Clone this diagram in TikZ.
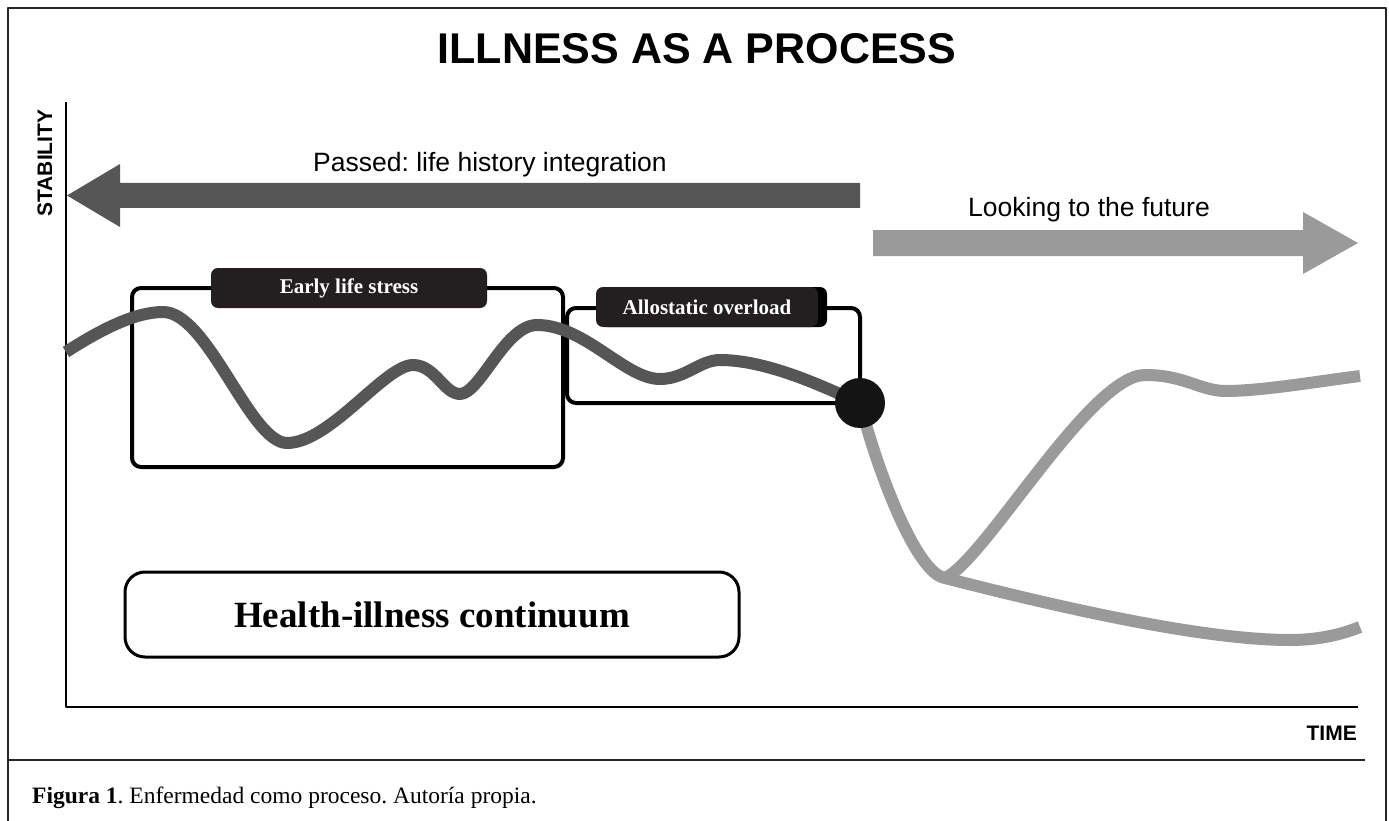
\documentclass[tikz,border=0pt]{standalone}
\usepackage{fontspec}
\setmainfont{Liberation Serif}
\newfontfamily\arialf{Liberation Sans}
\definecolor{darkgr}{HTML}{565656}
\definecolor{lightgr}{HTML}{9A9A9A}
\definecolor{labelblk}{HTML}{231F20}
\frenchspacing
\begin{document}
\begin{tikzpicture}[x=1pt,y=-1pt,line join=round,
  framest/.style={line width=2.5pt,black!85},
  axisst/.style={line width=2pt,black},
  boxst/.style={draw,line width=4pt,rounded corners=9pt,inner sep=0pt},
  labelst/.style={fill=labelblk,rounded corners=7pt,inner sep=0pt,minimum height=40pt,
    text=white,font=\bfseries\fontsize{21}{24}\selectfont},
  sanslabel/.style={inner sep=0pt,anchor=base,font=\arialf\fontsize{26.5}{30}\selectfont},
  axislabel/.style={inner sep=0pt,font=\arialf\bfseries\fontsize{21}{24}\selectfont},
  darkcurve/.style={line width=12pt,darkgr},
  lightcurve/.style={line width=12pt,lightgr}]
\useasboundingbox (0,0) rectangle (1389,821);
\fill[white] (0,0) rectangle (1389,821);
% frame
\draw[framest] (8,821) -- (8,8) -- (1386,8) -- (1386,821);
\draw[framest] (8,760) -- (1365,760);
% title
\node[inner sep=0pt,anchor=base,font=\arialf\bfseries\fontsize{43}{50}\selectfont] (title) at (697,64) {ILLNESS AS A PROCESS};
% axes
\coordinate (ytop) at (66,102);
\coordinate (origin) at (66,707);
\coordinate (xend) at (1358,707);
\draw[axisst] (ytop) -- (origin) -- (xend);
\node[axislabel,rotate=90,anchor=base] (stab) at (52,163) {STABILITY};
\node[axislabel,anchor=base east] (time) at (1357,740) {TIME};
% arrows
\fill[darkgr] (860,183) -- (120,183) -- (120,164) -- (67,195.5) -- (120,227) -- (120,208) -- (860,208) -- cycle;
\fill[lightgr] (873,230) -- (1303,230) -- (1303,212) -- (1358,243) -- (1303,274) -- (1303,256) -- (873,256) -- cycle;
\node[sanslabel] (passed) at (490,172) {Passed: life history integration};
\node[sanslabel] (future) at (1089,217) {Looking to the future};
% boxes
\node[boxst,minimum width=431pt,minimum height=179pt] (early) at (347.5,377.5) {};
\node[boxst,minimum width=293pt,minimum height=95pt] (allo) at (713.5,355.5) {};
% event point
\coordinate (ev) at (860,403);
\coordinate (junc) at (945,578);
% curves
\draw[darkcurve] (66,352) .. controls (100,330) and (135,312) .. (163,312)
  .. controls (208,312) and (250,443) .. (287,443)
  .. controls (330,443) and (385,365) .. (413,365)
  .. controls (435,365) and (444,394) .. (460,394)
  .. controls (480,394) and (505,325) .. (537,325)
  .. controls (585,325) and (625,379) .. (660,379)
  .. controls (685,379) and (700,360) .. (720,360)
  .. controls (770,360) and (830,390) .. (ev);
\draw[lightcurve] (ev) .. controls (880,480) and (918,574) .. (junc)
  .. controls (1050,605) and (1200,640) .. (1290,640)
  .. controls (1322,640) and (1345,633) .. (1360,627);
\draw[lightcurve] (junc) .. controls (985,560) and (1090,375) .. (1145,375)
  .. controls (1185,375) and (1200,391) .. (1226,391)
  .. controls (1262,391) and (1320,381) .. (1360,376);
% labels
\node[labelst,minimum width=276pt] (earlylab) at (349,288) {Early life stress};
\fill[black,rounded corners=7pt] (600,287) rectangle (827,327);
\node[labelst,minimum width=222pt] (allolab) at (707,307) {Allostatic overload};
% event
\node[circle,fill=black!92,minimum size=50pt,inner sep=0pt] (event) at (ev) {};
% health box
\node[draw,line width=3pt,rounded corners=20pt,minimum width=614pt,minimum height=85pt,inner sep=0pt,
  font=\bfseries\fontsize{37}{42}\selectfont] (health) at (432,614.5) {Health-illness continuum};
% caption
\node[inner sep=0pt,anchor=base west,font=\fontsize{23.5}{27}\selectfont] (caption) at (32,803)
  {\textbf{Figura 1}. Enfermedad como proceso. Autoría propia.};
\end{tikzpicture}
\end{document}
